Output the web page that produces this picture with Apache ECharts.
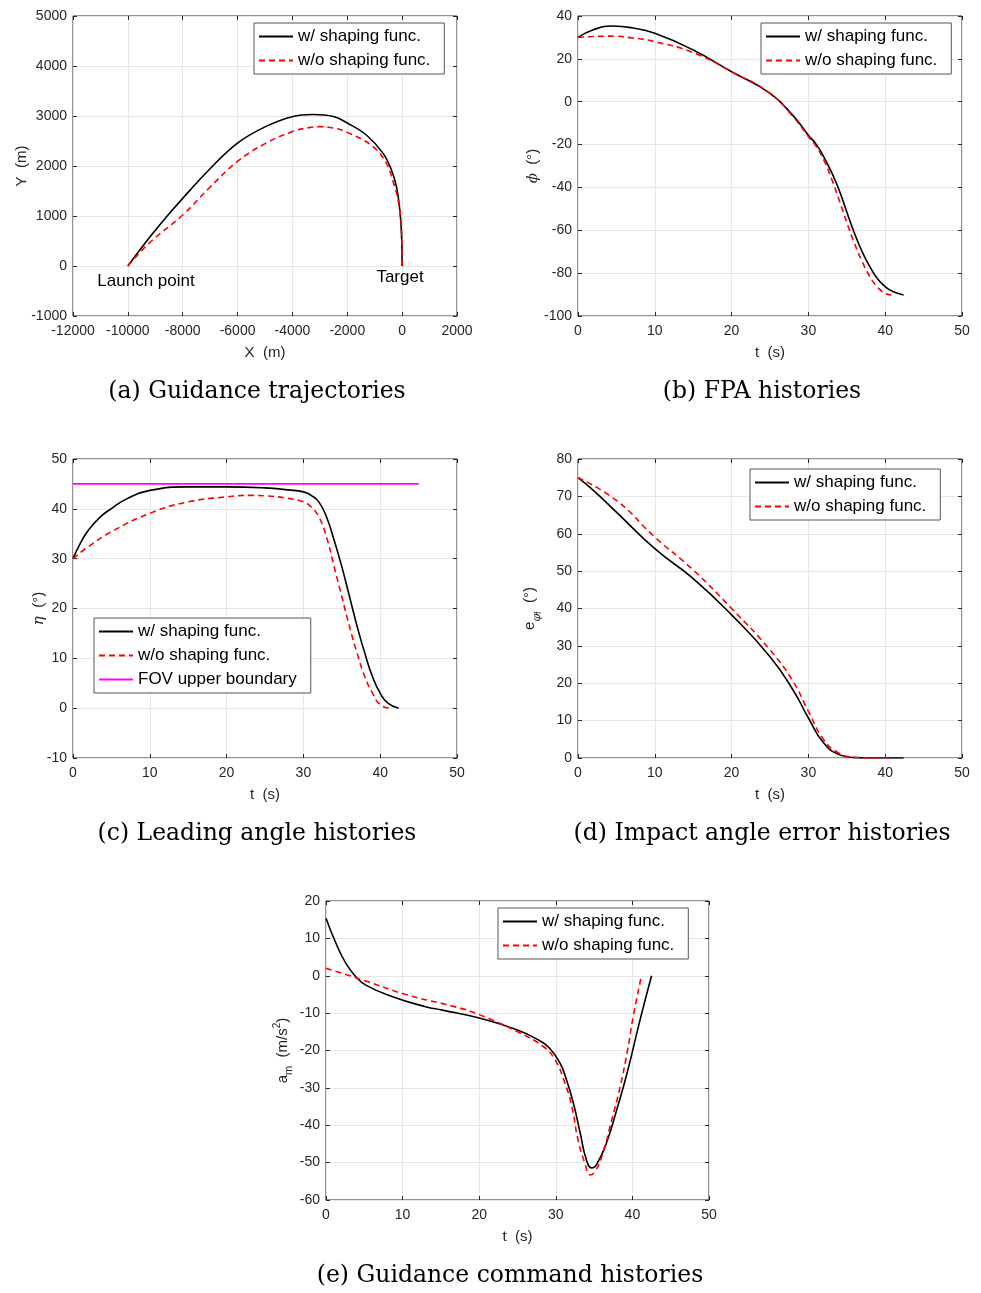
<!DOCTYPE html>
<html>
<head>
<meta charset="utf-8">
<script src="https://cdn.jsdelivr.net/npm/echarts@6/dist/echarts.min.js"></script>
<style>
  html, body { margin: 0; padding: 0; background: #fff; }
  #chart { width: 981px; height: 1293px; }
</style>
</head>
<body>
<div id="chart"></div>
<script>
// ---- (a) trajectories: [X (m), Y (m)]
const trajWith = [[-10000,0],[-9234,553],[-8566,1000],[-8000,1353],[-7047,1920],[-6015,2453],[-4982,2787],[-4010,2987],[-3256,3030],[-2500,2990],[-2000,2860],[-1305,2620],[-695,2253],[-390,1920],[-207,1587],[-85,1120],[-24,653],[0,0]];
const trajWithout = [[-10000,0],[-9234,453],[-8000,1020],[-7047,1553],[-6015,2087],[-4982,2453],[-4010,2687],[-3402,2767],[-3012,2787],[-2500,2760],[-1915,2653],[-1061,2387],[-573,2053],[-329,1687],[-146,1320],[-49,920],[-12,520],[0,0]];

// ---- (b) flight path angle phi (deg) vs t (s)
const fpaWith = [[0,30],[2,33.6],[4.5,35.3],[7,34.5],[10,31.9],[15,24.1],[20,14],[25,3.9],[28,-6.5],[30,-15.6],[31,-19.8],[32,-25.7],[33,-32.8],[34,-41.2],[35,-51.5],[36,-61.4],[37,-70],[38,-77],[39,-82.6],[40,-86.3],[41,-88.6],[42.4,-90.2]];
const fpaWithout = [[0,30],[4,30.6],[7,29.8],[10,28],[15,22.9],[20,14],[25,3.9],[28,-7],[30,-16.3],[31,-20.8],[32,-27.2],[33,-35.8],[34,-45.9],[35,-56.4],[36,-66.1],[37,-74.6],[38,-81.6],[39,-86.6],[40,-89.4],[40.8,-90.2]];

// ---- (c) leading angle eta (deg) vs t (s)
const etaWith = [[0,30],[1,33.2],[2,35.7],[3.5,38.3],[5,40.05],[7,42],[10,43.7],[15,44.4],[20,44.4],[25,44.2],[28,43.8],[30,43.4],[31,42.7],[32,41.4],[33,38.4],[34,33.7],[35,28.4],[36,22.4],[37,16.4],[38,11],[39,6.3],[40,3],[41,1],[42.4,0]];
const etaWithout = [[0,30],[2,32.4],[5,35.4],[10,39.1],[15,41.4],[20,42.4],[23,42.7],[25,42.6],[28,42.1],[30,41.4],[31,40.4],[32,38.4],[33,34.4],[34,28.4],[35,22.4],[36,16.4],[37,11],[38,6.3],[39,3],[40,0.7],[41.3,0]];
const fovBound = [[0,45],[45,45]];

// ---- (d) impact angle error (deg) vs t (s)
const errWith = [[0,75],[2,71.6],[5,65.8],[10,56],[15,48],[20,38.3],[25,27.1],[28,18.2],[30,10.7],[32,4],[34,0.9],[36,0.1],[38,0],[42.4,0]];
const errWithout = [[0,75],[5,68.9],[10,59.1],[15,50.3],[20,40],[25,28.9],[28,20.5],[30,12.5],[32,4.9],[34,1.3],[36,0.2],[38,0],[41,0]];

// ---- (e) guidance command a_m (m/s^2) vs t (s)
const cmdWith = [[0,15.4],[1.3,8.7],[2.6,3.3],[3.9,-0.25],[5.2,-2.5],[8.7,-5.6],[13,-8.3],[15.2,-9.2],[20,-11.3],[25,-14.5],[27.9,-17.4],[29.2,-19.4],[30.55,-23.4],[31.4,-27.9],[32.3,-34.1],[33.2,-42.2],[34,-49.3],[34.7,-51.4],[35.3,-50.6],[36.6,-44.8],[37.95,-35.9],[39.3,-26.1],[41,-11.8],[42.5,0]];
const cmdWithout = [[0,2],[5.2,-1.4],[10.4,-5],[17,-8.4],[20,-10.4],[25,-15],[28.4,-19],[29.9,-22.5],[31.2,-28.8],[32.1,-35],[32.9,-43.9],[33.8,-50.2],[34.5,-53.3],[35.1,-52.4],[36,-48.4],[37.3,-38.6],[38.4,-29.7],[39.4,-19.5],[40.1,-11],[41.1,-0.8]];

// ---- tick settings per panel
const xTicksA = { min: -12000, max: 2000, interval: 2000 };
const yTicksA = { min: -1000, max: 5000, interval: 1000 };
const xTicksT = { min: 0, max: 50, interval: 10 };
const yTicksB = { min: -100, max: 40, interval: 20 };
const yTicksC = { min: -10, max: 50, interval: 10 };
const yTicksD = { min: 0, max: 80, interval: 10 };
const yTicksE = { min: -60, max: 20, interval: 10 };

const NAME_W = 'w/ shaping func.';
const NAME_WO = 'w/o shaping func.';
const NAME_FOV = 'FOV upper boundary';

const axisColor = '#262626';
const sans = '"Liberation Sans", Arial, Helvetica, sans-serif';
const serif = '"DejaVu Serif", "Liberation Serif", serif';

const chart = echarts.init(document.getElementById('chart'), null, { renderer: 'canvas' });

const grids = [
  { left: 73,  top: 16,  width: 384, height: 300 },
  { left: 578, top: 16,  width: 384, height: 300 },
  { left: 73,  top: 459, width: 384, height: 299 },
  { left: 578, top: 459, width: 384, height: 299 },
  { left: 326, top: 901, width: 383, height: 299 }
].map(g => Object.assign({ show: true, borderColor: axisColor, borderWidth: 1, backgroundColor: '#fff' }, g));

const plainNumber = v => String(v);
const tickStyle = { show: true, inside: true, length: 4, lineStyle: { color: axisColor } };

function xAxis(gi, ticks, name) {
  return Object.assign({
    type: 'value', gridIndex: gi, name: name, nameLocation: 'middle', nameGap: 29,
    nameMoveOverlap: false,
    nameTextStyle: { color: axisColor, fontFamily: sans, fontSize: 15 },
    axisLine: { show: false, onZero: false },
    axisTick: tickStyle,
    axisLabel: { color: axisColor, fontFamily: sans, fontSize: 14, margin: 8, formatter: plainNumber, showMinLabel: true, showMaxLabel: true },
    splitLine: { show: true, lineStyle: { color: '#e6e6e6', width: 1 } }
  }, ticks);
}
function yAxis(gi, ticks, name, gap, rich) {
  return Object.assign({
    type: 'value', gridIndex: gi, name: name, nameLocation: 'middle', nameGap: gap, nameRotate: 90,
    nameMoveOverlap: false,
    nameTextStyle: Object.assign({ color: axisColor, fontFamily: sans, fontSize: 15 }, rich ? { rich: rich } : {}),
    axisLine: { show: false, onZero: false },
    axisTick: tickStyle,
    axisLabel: { color: axisColor, fontFamily: sans, fontSize: 14, margin: 6, formatter: plainNumber, showMinLabel: true, showMaxLabel: true },
    splitLine: { show: true, lineStyle: { color: '#e6e6e6', width: 1 } }
  }, ticks);
}
// mirrored tick marks on the top and right edges of each box
function mirrorAxis(gi, ticks, position) {
  return Object.assign({
    type: 'value', gridIndex: gi, position: position,
    axisLine: { show: false, onZero: false },
    axisTick: tickStyle,
    axisLabel: { show: false },
    splitLine: { show: false }
  }, ticks);
}

const richBase = {
  n: { fontFamily: sans, fontSize: 15, color: axisColor, lineHeight: 22 },
  gi: { fontFamily: serif, fontStyle: 'italic', fontSize: 15, color: axisColor, lineHeight: 22 },
  sub: { fontFamily: sans, fontSize: 11, color: axisColor, lineHeight: 22, verticalAlign: 'bottom' },
  subi: { fontFamily: serif, fontStyle: 'italic', fontSize: 11, color: axisColor, lineHeight: 22, verticalAlign: 'bottom' },
  sub2: { fontFamily: sans, fontSize: 9, color: axisColor, lineHeight: 26, verticalAlign: 'bottom' },
  sup: { fontFamily: sans, fontSize: 10, color: axisColor, lineHeight: 22, verticalAlign: 'top' }
};

const solid = { color: '#000', width: 1.6, type: 'solid' };
const dashed = { color: '#ff0000', width: 1.6, type: [6, 4] };

function line(name, data, gi, style, smooth) {
  return {
    name: name, type: 'line', xAxisIndex: gi, yAxisIndex: gi, data: data,
    showSymbol: false, symbol: 'none', smooth: smooth === undefined ? 0.5 : smooth,
    lineStyle: style, itemStyle: { color: style.color }, emphasis: { disabled: true },
    animation: false, z: style.type === 'solid' ? 3 : 4
  };
}

function legend(left, top, names) {
  return {
    show: true, left: left, top: top, orient: 'vertical', data: names,
    backgroundColor: '#fff', borderColor: '#555', borderWidth: 1,
    padding: [5, 14, 5, 4], itemGap: 7, itemWidth: 34, itemHeight: 14,
    itemStyle: { color: 'rgba(0,0,0,0)', borderWidth: 0, opacity: 0 },
    textStyle: { color: '#000', fontFamily: sans, fontSize: 17 },
    selectedMode: false
  };
}

const captions = [
  { text: '(a) Guidance trajectories', x: 257, y: 392 },
  { text: '(b) FPA histories', x: 762, y: 392 },
  { text: '(c) Leading angle histories', x: 257, y: 834 },
  { text: '(d) Impact angle error histories', x: 762, y: 834 },
  { text: '(e) Guidance command histories', x: 510, y: 1276 }
];
const notes = [
  { text: 'Launch point', x: 146, y: 281 },
  { text: 'Target', x: 400, y: 277 }
];

const xTickSets = [xTicksA, xTicksT, xTicksT, xTicksT, xTicksT];
const yTickSets = [yTicksA, yTicksB, yTicksC, yTicksD, yTicksE];

const option = {
  backgroundColor: '#fff',
  animation: false,
  grid: grids,
  xAxis: [
    xAxis(0, xTicksA, 'X  (m)'),
    xAxis(1, xTicksT, 't  (s)'),
    xAxis(2, xTicksT, 't  (s)'),
    xAxis(3, xTicksT, 't  (s)'),
    xAxis(4, xTicksT, 't  (s)')
  ].concat(xTickSets.map((t, i) => mirrorAxis(i, t, 'top'))),
  yAxis: [
    yAxis(0, yTicksA, 'Y  (m)', 44),
    yAxis(1, yTicksB, '{gi|ϕ}{n|  (°)}', 34, richBase),
    yAxis(2, yTicksC, '{gi|η}{n|  (°)}', 23, richBase),
    yAxis(3, yTicksD, '{n|e}{subi|φ}{sub2|f}{n|  (°)}', 35, richBase),
    yAxis(4, yTicksE, '{n|a}{sub|m}{n|  (m/s}{sup|2}{n|)}', 32, richBase)
  ].concat(yTickSets.map((t, i) => mirrorAxis(i, t, 'right'))),
  legend: [
    legend(254, 23, [NAME_W, NAME_WO]),
    legend(761, 23, [NAME_W, NAME_WO]),
    legend(94, 618, [NAME_W, NAME_WO, NAME_FOV]),
    legend(750, 469, [NAME_W, NAME_WO]),
    legend(498, 908, [NAME_W, NAME_WO])
  ],
  series: [
    line(NAME_W, trajWith, 0, solid, 0.4),
    line(NAME_WO, trajWithout, 0, dashed, 0.4),
    line(NAME_W, fpaWith, 1, solid),
    line(NAME_WO, fpaWithout, 1, dashed),
    line(NAME_FOV, fovBound, 2, { color: '#ff00ff', width: 1.6, type: 'solid' }, false),
    line(NAME_W, etaWith, 2, solid),
    line(NAME_WO, etaWithout, 2, dashed),
    line(NAME_W, errWith, 3, solid),
    line(NAME_WO, errWithout, 3, dashed),
    line(NAME_W, cmdWith, 4, solid),
    line(NAME_WO, cmdWithout, 4, dashed)
  ],
  graphic: captions.map(c => ({
    type: 'text', x: c.x, y: c.y,
    style: { text: c.text, fill: '#000', font: '23.5px ' + serif, align: 'center', verticalAlign: 'middle' }
  })).concat(notes.map(n => ({
    type: 'text', x: n.x, y: n.y, z: 10,
    style: { text: n.text, fill: '#000', font: '17px ' + sans, align: 'center', verticalAlign: 'middle' }
  })))
};

chart.setOption(option);
</script>
</body>
</html>
